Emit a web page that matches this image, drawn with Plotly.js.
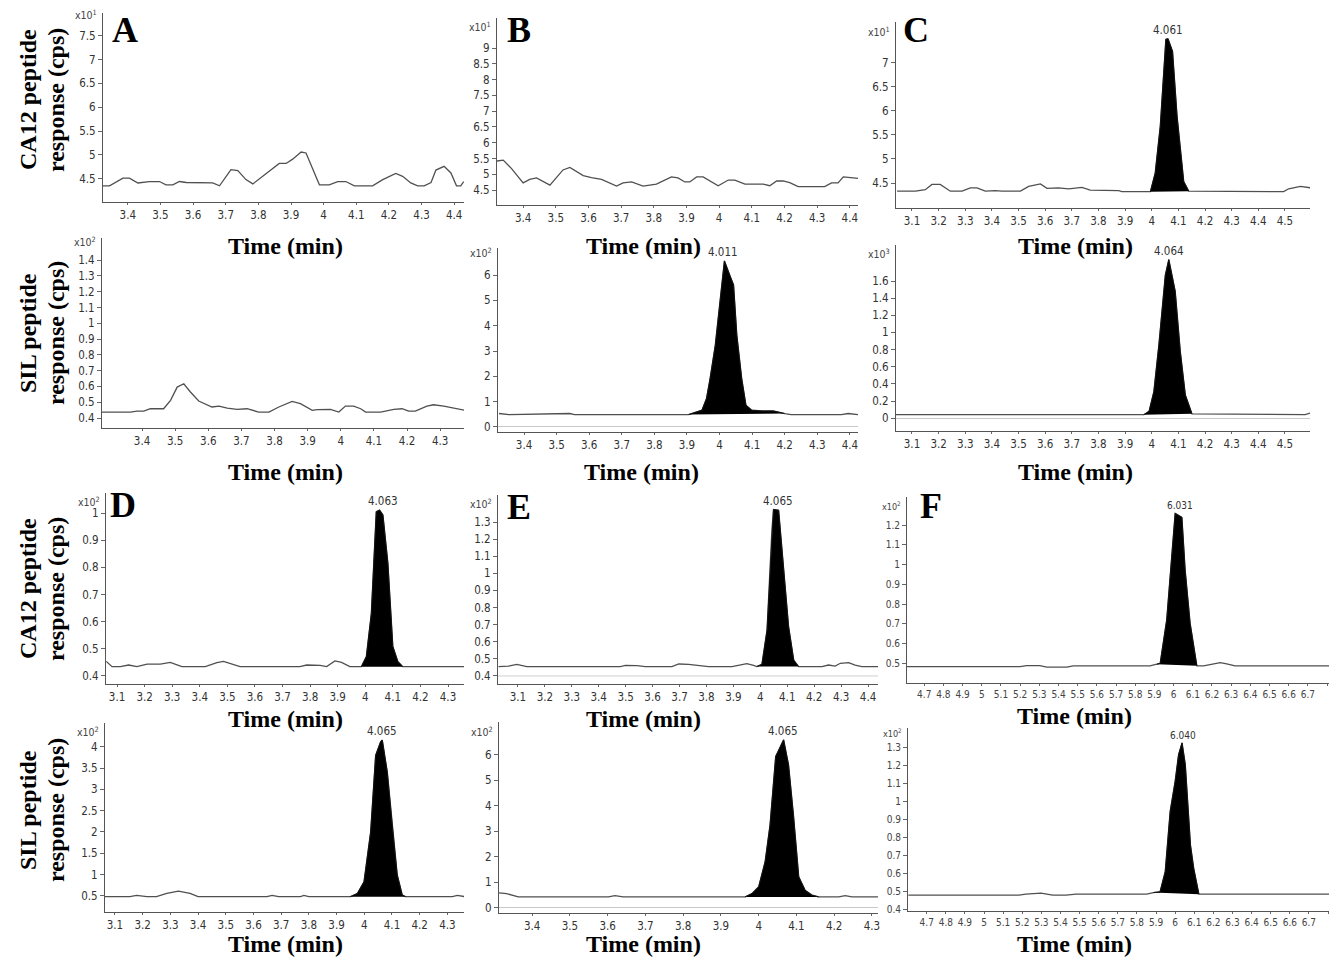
<!DOCTYPE html>
<html><head><meta charset="utf-8">
<script src="https://cdn.plot.ly/plotly-3.0.1.min.js"></script>
<style>body{margin:0;background:#fff}#chart{width:1329px;height:958px}</style>
</head><body><div id="chart"></div>
<script>
// ---------------- DATA ----------------
// A: CA12 peptide
const aCaTime = [3.323,3.344,3.385,3.405,3.431,3.466,3.497,3.517,3.538,3.558,3.579,3.66,3.681,3.716,3.737,3.762,3.783,3.813,3.864,3.885,3.905,3.931,3.946,3.987,4.017,4.043,4.068,4.094,4.15,4.181,4.221,4.242,4.267,4.288,4.308,4.329,4.344,4.369,4.39,4.407,4.42,4.429];
const aCaResp = [4.35,4.35,4.51,4.51,4.41,4.44,4.44,4.37,4.37,4.44,4.42,4.41,4.35,4.69,4.67,4.48,4.39,4.55,4.82,4.82,4.91,5.06,5.04,4.37,4.37,4.44,4.44,4.35,4.35,4.48,4.61,4.55,4.41,4.35,4.35,4.42,4.68,4.76,4.62,4.35,4.35,4.44];
// A: SIL peptide
const aSilTime = [3.279,3.365,3.385,3.405,3.425,3.465,3.486,3.506,3.526,3.546,3.571,3.591,3.611,3.632,3.657,3.687,3.717,3.752,3.783,3.813,3.853,3.878,3.914,3.929,3.969,3.994,4.014,4.039,4.06,4.075,4.12,4.16,4.185,4.205,4.225,4.26,4.28,4.311,4.341,4.374];
const aSilResp = [0.438,0.438,0.444,0.444,0.459,0.459,0.512,0.596,0.617,0.565,0.508,0.491,0.47,0.476,0.463,0.455,0.459,0.438,0.438,0.47,0.505,0.491,0.449,0.453,0.455,0.438,0.476,0.476,0.459,0.438,0.438,0.455,0.459,0.444,0.444,0.476,0.484,0.476,0.463,0.449];
// B: CA12 peptide
const bCaTime = [3.318,3.339,3.364,3.40,3.42,3.441,3.482,3.522,3.543,3.584,3.609,3.640,3.686,3.706,3.732,3.767,3.808,3.854,3.874,3.895,3.910,3.931,3.951,3.997,4.028,4.048,4.079,4.109,4.135,4.155,4.176,4.196,4.216,4.242,4.298,4.323,4.344,4.364,4.38,4.40,4.425];
const bCaResp = [5.42,5.45,5.19,4.73,4.84,4.89,4.66,5.14,5.22,4.96,4.90,4.84,4.63,4.73,4.76,4.63,4.69,4.92,4.89,4.76,4.76,4.92,4.92,4.64,4.82,4.82,4.69,4.69,4.69,4.64,4.79,4.79,4.74,4.61,4.61,4.61,4.73,4.73,4.92,4.89,4.87];
// B: SIL peptide
const bSilTime = [3.323,3.354,3.54,3.555,3.905,3.946,3.96,3.971,3.987,4.002,4.011,4.015,4.033,4.043,4.053,4.068,4.081,4.099,4.13,4.165,4.20,4.22,4.374,4.395,4.425];
const bSilResp = [0.53,0.49,0.53,0.49,0.49,0.66,1.12,1.91,3.23,4.95,6.0,6.56,5.94,5.61,3.63,1.91,0.86,0.66,0.63,0.63,0.53,0.49,0.49,0.53,0.49];
// C: CA12 peptide
const cCaTime = [3.044,3.113,3.15,3.175,3.206,3.244,3.288,3.319,3.344,3.375,3.413,3.438,3.507,3.538,3.582,3.607,3.65,3.688,3.738,3.769,3.876,3.888,3.995,4.013,4.032,4.053,4.061,4.078,4.095,4.12,4.139,4.495,4.514,4.558,4.595];
const cCaResp = [4.33,4.33,4.36,4.47,4.47,4.33,4.33,4.40,4.40,4.33,4.34,4.33,4.33,4.43,4.48,4.39,4.40,4.38,4.41,4.35,4.34,4.32,4.32,4.71,5.68,7.49,7.5,7.24,5.89,4.53,4.33,4.32,4.38,4.43,4.40];
// C: SIL peptide
const cSilTime = [3.04,3.97,3.99,4.008,4.027,4.051,4.064,4.088,4.107,4.126,4.151,4.576,4.595];
const cSilResp = [0.04,0.04,0.08,0.31,0.86,1.67,1.85,1.48,0.78,0.27,0.05,0.04,0.06];
// D: CA12 peptide
const dCaTime = [3.061,3.082,3.112,3.142,3.172,3.209,3.257,3.293,3.335,3.42,3.462,3.486,3.546,3.763,3.788,3.836,3.86,3.89,3.914,3.944,3.986,4.004,4.022,4.04,4.052,4.064,4.082,4.1,4.118,4.136,4.358];
const dCaResp = [0.453,0.434,0.434,0.44,0.434,0.443,0.443,0.45,0.434,0.434,0.449,0.453,0.434,0.434,0.44,0.439,0.434,0.455,0.45,0.434,0.434,0.471,0.63,1.005,1.011,0.993,0.815,0.508,0.453,0.434,0.434];
// D: SIL peptide
const dSilTime = [3.064,3.154,3.178,3.215,3.25,3.287,3.329,3.371,3.40,3.649,3.667,3.691,3.77,3.782,3.80,3.95,3.975,3.999,4.023,4.041,4.059,4.065,4.083,4.101,4.119,4.137,4.149,4.318,4.336,4.364];
const dSilResp = [0.48,0.48,0.51,0.48,0.48,0.555,0.61,0.555,0.48,0.48,0.51,0.48,0.48,0.51,0.48,0.48,0.555,0.83,2.0,3.8,4.12,4.16,3.41,2.16,0.99,0.52,0.48,0.48,0.51,0.48];
// E: CA12 peptide
const eCaTime = [3.028,3.065,3.096,3.133,3.48,3.499,3.542,3.573,3.672,3.697,3.734,3.771,3.808,3.895,3.919,3.95,3.975,3.987,4.006,4.025,4.043,4.049,4.068,4.086,4.105,4.124,4.142,4.229,4.253,4.278,4.297,4.328,4.352,4.377,4.437];
const eCaResp = [0.455,0.458,0.468,0.455,0.455,0.462,0.46,0.455,0.455,0.47,0.468,0.46,0.455,0.455,0.464,0.472,0.462,0.455,0.468,0.668,1.252,1.373,1.369,1.058,0.688,0.493,0.455,0.455,0.464,0.458,0.474,0.478,0.464,0.455,0.455];
// E: SIL peptide
const eSilTime = [3.312,3.332,3.363,3.602,3.619,3.641,3.964,3.982,4.0,4.017,4.03,4.045,4.066,4.079,4.092,4.106,4.123,4.141,4.159,4.212,4.229,4.247,4.316];
const eSilResp = [0.59,0.56,0.43,0.43,0.48,0.43,0.43,0.56,0.83,1.81,3.25,5.94,6.59,5.61,3.64,1.22,0.69,0.50,0.43,0.43,0.48,0.43,0.43];
// F: CA12 peptide
const fCaTime = [4.608,5.199,5.234,5.303,5.338,5.443,5.477,5.877,5.912,5.93,5.964,5.99,6.008,6.043,6.06,6.086,6.121,6.156,6.208,6.243,6.277,6.32,6.811];
const fCaResp = [0.483,0.483,0.488,0.488,0.48,0.48,0.487,0.487,0.495,0.5,0.72,1.04,1.259,1.239,0.972,0.702,0.487,0.487,0.497,0.503,0.497,0.487,0.487];
// F: SIL peptide
const fSilTime = [4.604,5.183,5.218,5.298,5.359,5.429,5.482,5.851,5.886,5.921,5.948,5.974,6.0,6.018,6.036,6.053,6.08,6.097,6.124,6.805];
const fSilResp = [0.478,0.478,0.484,0.49,0.478,0.478,0.484,0.484,0.493,0.497,0.609,0.945,1.113,1.262,1.327,1.206,0.758,0.628,0.484,0.484];

// y tick values (in units of the x10^n multiplier)
const aCaYTicks = [4.5,5,5.5,6,6.5,7,7.5];
const bCaYTicks = [4.5,5,5.5,6,6.5,7,7.5,8,8.5,9];
const cCaYTicks = [4.5,5,5.5,6,6.5,7];
const aSilYTicks = [0.4,0.5,0.6,0.7,0.8,0.9,1,1.1,1.2,1.3,1.4];
const bSilYTicks = [0,1,2,3,4,5,6];
const cSilYTicks = [0,0.2,0.4,0.6,0.8,1,1.2,1.4,1.6];
const dCaYTicks = [0.4,0.5,0.6,0.7,0.8,0.9,1];
const eCaYTicks = [0.4,0.5,0.6,0.7,0.8,0.9,1,1.1,1.2,1.3];
const fCaYTicks = [0.5,0.6,0.7,0.8,0.9,1,1.1,1.2];
const dSilYTicks = [0.5,1,1.5,2,2.5,3,3.5,4];
const eSilYTicks = [0,1,2,3,4,5,6];
const fSilYTicks = [0.4,0.5,0.6,0.7,0.8,0.9,1,1.1,1.2,1.3];
const aSilXTickVals = [3.4,3.5,3.6,3.7,3.8,3.9,4,4.1,4.2,4.3];

// multiplier exponents
const exponents = ['1','1','1','2','2','3','2','2','2','2','2','2'];

// integrated peaks
const peakPanels = [4,2,5,6,9,7,10,8,11];
const peakLabels = ['4.011','4.061','4.064','4.063','4.065','4.065','4.065','6.031','6.040'];
const peakStart = [3.905,3.995,3.97,3.986,3.95,3.987,3.964,5.912,5.886];
const peakEnd   = [4.20,4.139,4.151,4.136,4.149,4.142,4.159,6.121,6.124];

const panelLetters = ['A','B','C','D','E','F'];

// ---------------- LAYOUT ----------------
const W = 1329, H = 958;
const px = x => x / W, py = y => 1 - y / H;

// order: row1 A,B,C CA12; row2 A,B,C SIL; row3 D,E,F CA12; row4 D,E,F SIL
const panels = [
  {t:aCaTime, r:aCaResp, yt:aCaYTicks, box:[103,464,13,202], xr:[3.324,4.43], yr:[4.01,7.98], expDy:2},
  {t:bCaTime, r:bCaResp, yt:bCaYTicks, box:[497,858,18,205], xr:[3.32,4.425], yr:[4.03,9.95], expDy:9},
  {t:cCaTime, r:cCaResp, yt:cCaYTicks, box:[896,1310,22,208], xr:[3.04,4.594], yr:[3.98,7.85], expDy:10},
  {t:aSilTime, r:aSilResp, yt:aSilYTicks, box:[102,464,238,428], xr:[3.279,4.372], yr:[0.337,1.54], xtv:aSilXTickVals, expDy:4},
  {t:bSilTime, r:bSilResp, yt:bSilYTicks, box:[498,858,248,432], xr:[3.32,4.425], yr:[-0.2,7.07], zero:true, expDy:4},
  {t:cSilTime, r:cSilResp, yt:cSilYTicks, box:[896,1310,245,431], xr:[3.04,4.594], yr:[-0.15,2.02], zero:true, expDy:8},
  {t:dCaTime, r:dCaResp, yt:dCaYTicks, box:[106,464,493,684], xr:[3.06,4.358], yr:[0.37,1.074], expDy:8},
  {t:eCaTime, r:eCaResp, yt:eCaYTicks, box:[498,878,495,684], xr:[3.026,4.437], yr:[0.353,1.458], expDy:8},
  {t:fCaTime, r:fCaResp, yt:fCaYTicks, box:[907,1329,497,683], xr:[4.61,6.81], yr:[0.4,1.342], small:true, expDy:9},
  {t:dSilTime, r:dSilResp, yt:dSilYTicks, box:[105,464,723,912], xr:[3.064,4.36], yr:[0.12,4.56], expDy:8},
  {t:eSilTime, r:eSilResp, yt:eSilYTicks, box:[499,878,722,913], xr:[3.312,4.316], yr:[-0.2,7.29], zero:true, expDy:9},
  {t:fSilTime, r:fSilResp, yt:fSilYTicks, box:[908,1329,728,911], xr:[4.602,6.805], yr:[0.39,1.41], small:true, expDy:5}
];

const tickFont = {family:'"Liberation Sans Narrow","Arial Narrow","DejaVu Sans Condensed",sans-serif', size:11.5, color:'#333'};
const tickFontSmall = {family:'"Liberation Sans Narrow","Arial Narrow","DejaVu Sans Condensed",sans-serif', size:10, color:'#444'};
const serif = '"Liberation Serif","Times New Roman",serif';

const data = [];
const layout = {
  width: W, height: H, margin:{l:0,r:0,t:0,b:0},
  paper_bgcolor:'#fff', plot_bgcolor:'rgba(0,0,0,0)', showlegend:false,
  annotations: [], shapes: []
};

panels.forEach((p, i) => {
  const n = i + 1;
  const xa = n === 1 ? 'x' : 'x' + n, ya = n === 1 ? 'y' : 'y' + n;
  const [L, R, T, B] = p.box;
  const tf = p.small ? tickFontSmall : tickFont;
  const xax = {
    domain:[px(L), px(R)], anchor: ya, range: p.xr,
    showline:true, linecolor:'#555', linewidth:1, ticks:'outside', ticklen:2, tickcolor:'#666',
    showgrid:false, zeroline:false, tickfont: tf, tickangle:0, fixedrange:true
  };
  if (p.xtv) { xax.tickmode='array'; xax.tickvals=p.xtv; }
  else { xax.tick0 = 0; xax.dtick = 0.1; }
  const yax = {
    domain:[py(B), py(T)], anchor: xa, range: p.yr,
    tickmode:'array', tickvals: p.yt,
    showline:true, linecolor:'#555', linewidth:1, ticks:'outside', ticklen:4, tickcolor:'#666',
    showgrid:false, zeroline: !!p.zero, zerolinecolor:'#c8c8c8', zerolinewidth:1,
    tickfont: tf, fixedrange:true
  };
  layout['xaxis' + (n === 1 ? '' : n)] = xax;
  layout['yaxis' + (n === 1 ? '' : n)] = yax;

  data.push({x:p.t, y:p.r, xaxis:xa, yaxis:ya, mode:'lines', type:'scatter',
             line:{color:'#505050', width:1.3}, hoverinfo:'skip'});

  // multiplier label
  layout.annotations.push({
    xref:'paper', yref:'paper', x:px(L - 4), y:py(T + p.expDy), xanchor:'right', yanchor:'middle',
    text:'x10<sup>' + exponents[i] + '</sup>', showarrow:false,
    font:{family:tf.family, size: p.small ? 9 : 10.5, color:'#444'}
  });
});

// integrated peak areas (black) and their retention-time labels
peakPanels.forEach((pi, k) => {
  const p = panels[pi], n = pi + 1;
  const xa = n === 1 ? 'x' : 'x' + n, ya = n === 1 ? 'y' : 'y' + n;
  const xs = [], ys = [];
  p.t.forEach((t, j) => { if (t >= peakStart[k] - 1e-9 && t <= peakEnd[k] + 1e-9) { xs.push(t); ys.push(p.r[j]); } });
  data.push({x:xs, y:ys, xaxis:xa, yaxis:ya, mode:'lines', type:'scatter', fill:'toself',
             fillcolor:'#000', line:{color:'#111', width:1}, hoverinfo:'skip'});
  const ymax = Math.max(...ys);
  layout.annotations.push({
    xref:xa, yref:ya, x:Number(peakLabels[k]), y:ymax, xanchor:'center', yanchor:'bottom', yshift:0,
    text:peakLabels[k], showarrow:false,
    font:{family:tickFont.family, size: p.small ? 10 : 11.5, color:'#333'}
  });
});

// faint reference line in E (CA12)
layout.shapes.push({type:'line', xref:'x8 domain', yref:'y8', x0:0, x1:1, y0:0.4, y1:0.4, line:{color:'#cfcfcf', width:1}});

// panel letters
const letterPos = [[125,30],[519,30],[916,30],[123,505],[519,507],[931,506]];
panelLetters.forEach((L, k) => {
  layout.annotations.push({xref:'paper', yref:'paper', x:px(letterPos[k][0]), y:py(letterPos[k][1]),
    xanchor:'center', yanchor:'middle', text:'<b>' + L + '</b>', showarrow:false,
    font:{family:serif, size:36, color:'#000'}});
});

// "Time (min)" labels
const timeLabelPos = [[285,246],[643,246],[1075,246],[285,472],[641,472],[1075,472],
                      [285,719],[643,719],[1074,716],[285,944],[643,944],[1074,944]];
timeLabelPos.forEach(([x, y]) => {
  layout.annotations.push({xref:'paper', yref:'paper', x:px(x), y:py(y), xanchor:'center', yanchor:'middle',
    text:'<b>Time (min)</b>', showarrow:false, font:{family:serif, size:24, color:'#000'}});
});

// y-axis titles (two lines each)
const yTitleRows = [[100,'CA12 peptide','response (cps)'],[333,'SIL peptide','response (cps)'],
                    [589,'CA12 peptide','response (cps)'],[810,'SIL peptide','response (cps)']];
yTitleRows.forEach(([yc, l1, l2]) => {
  [[28, l1], [56, l2]].forEach(([xc, txt]) => {
    layout.annotations.push({xref:'paper', yref:'paper', x:px(xc), y:py(yc), xanchor:'center', yanchor:'middle',
      text:'<b>' + txt + '</b>', textangle:-90, showarrow:false, font:{family:serif, size:24, color:'#000'}});
  });
});

Plotly.newPlot('chart', data, layout, {staticPlot:true, displayModeBar:false});
</script>
</body></html>
